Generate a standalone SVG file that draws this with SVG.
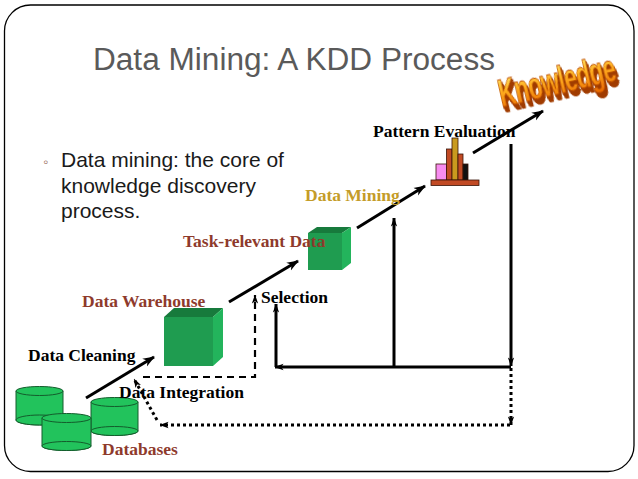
<svg xmlns="http://www.w3.org/2000/svg" width="638" height="479" viewBox="0 0 638 479">
<style>
.lbl{font-family:"Liberation Serif","Times New Roman",serif;font-weight:bold;font-size:17.5px}
.blk{fill:#000}
.red{fill:#8e3a2c}
.gold{fill:#c49c28}
.sol{stroke:#000;stroke-width:3;fill:none}
.dash{stroke:#000;stroke-width:2.2;fill:none;stroke-dasharray:7,5}
.dot{stroke:#000;stroke-width:3;fill:none;stroke-dasharray:3,3}
.cyl{fill:#22c35c;stroke:#145c2c;stroke-width:1}
.bar{stroke:#3a1408;stroke-width:0.8}
</style>
<defs>
<marker id="ah" viewBox="0 0 12 10" refX="11" refY="5" markerWidth="12" markerHeight="10" markerUnits="userSpaceOnUse" orient="auto"><path d="M0,0.5 L12,5 L0,9.5 L3.5,5 z" fill="#000"/></marker>
<marker id="ahs" viewBox="0 0 10 8" refX="9.5" refY="4" markerWidth="9" markerHeight="8" markerUnits="userSpaceOnUse" orient="auto"><path d="M0,0.5 L10,4 L0,7.5 L2.5,4 z" fill="#000"/></marker>
<linearGradient id="kg" x1="0" y1="0" x2="0" y2="1">
<stop offset="0" stop-color="#fff27a"/>
<stop offset="0.45" stop-color="#ffb020"/>
<stop offset="1" stop-color="#e86400"/>
</linearGradient>
<filter id="ext" x="-10%" y="-20%" width="130%" height="160%">
<feFlood flood-color="#a03c00" result="c"/>
<feComposite in="c" in2="SourceAlpha" operator="in" result="s"/>
<feOffset in="s" dx="0.4" dy="0.8" result="o1"/>
<feOffset in="s" dx="0.8" dy="1.6" result="o2"/>
<feOffset in="s" dx="1.2" dy="2.4" result="o3"/>
<feOffset in="s" dx="1.6" dy="3.2" result="o4"/>
<feMerge><feMergeNode in="o4"/><feMergeNode in="o3"/><feMergeNode in="o2"/><feMergeNode in="o1"/><feMergeNode in="SourceGraphic"/></feMerge>
</filter>
</defs>
<rect width="638" height="479" fill="#fff"/>
<rect x="4.5" y="5" width="629.5" height="466.5" rx="26" ry="26" fill="none" stroke="#000" stroke-width="1.3"/>

<g id="title">
<text x="93" y="70" font-family="'Liberation Sans',Arial,sans-serif" font-size="31" fill="#5a5a5a" textLength="402" lengthAdjust="spacingAndGlyphs">Data Mining: A KDD Process</text>
</g>
<g id="bullet" font-family="'Liberation Sans',Arial,sans-serif" font-size="21" fill="#1a1a1a">
<text x="43" y="167" font-size="15" fill="#9a6e60">◦</text>
<text x="61" y="167">Data mining: the core of</text>
<text x="61" y="193">knowledge discovery</text>
<text x="61" y="218">process.</text>
</g>

<g id="connectors">
<line x1="86" y1="398" x2="154" y2="357" class="sol" marker-end="url(#ah)"/>
<line x1="229" y1="302" x2="298" y2="261" class="sol" marker-end="url(#ah)"/>
<line x1="357" y1="228" x2="425" y2="186" class="sol" marker-end="url(#ah)"/>
<line x1="473" y1="153" x2="543" y2="111" class="sol" marker-end="url(#ah)"/>
<line x1="511" y1="144" x2="511" y2="366" class="sol" stroke-width="2.5" marker-end="url(#ahs)"/>
<line x1="511" y1="367" x2="275" y2="367" class="sol" stroke-width="2.5" marker-end="url(#ahs)"/>
<line x1="276" y1="367" x2="276" y2="304" class="sol" stroke-width="2.5" marker-end="url(#ahs)"/>
<line x1="394" y1="367" x2="394" y2="218" class="sol" stroke-width="2.5" marker-end="url(#ahs)"/>
<polyline points="143,377 255,377 255,295" class="dash" marker-end="url(#ahs)"/>
<line x1="511" y1="368" x2="511" y2="425" class="dot" marker-end="url(#ahs)"/>
<line x1="510" y1="425" x2="160" y2="425" class="dot" marker-end="url(#ahs)"/>
<line x1="157" y1="420" x2="134" y2="379" class="dot" marker-end="url(#ahs)"/>
</g>

<g id="databases">
<path class="cyl" d="M16,391 V420 A23.5,5 0 0 0 63,420 V391 Z"/>
<ellipse class="cyl" cx="39.5" cy="420" rx="23.5" ry="5" fill="none"/>
<ellipse class="cyl" cx="39.5" cy="391" rx="23.5" ry="4.5"/>
<path class="cyl" d="M91,402 V431 A23.5,4.5 0 0 0 138,431 V402 Z"/>
<ellipse class="cyl" cx="114.5" cy="431" rx="23.5" ry="4.5" fill="none"/>
<ellipse class="cyl" cx="114.5" cy="402" rx="23.5" ry="4.5"/>
<path class="cyl" d="M42,418 V446 A24.5,4.5 0 0 0 91,446 V418 Z"/>
<ellipse class="cyl" cx="66.5" cy="446" rx="24.5" ry="4.5" fill="none"/>
<ellipse class="cyl" cx="66.5" cy="418" rx="24.5" ry="4.5"/>
</g>

<g id="warehouse">
<rect x="164" y="317" width="49" height="49" fill="#1f9c50"/>
<polygon points="164,317 174,308 223,308 213,317" fill="#177a3c"/>
<polygon points="213,317 223,308 223,357 213,366" fill="#23b45c"/>
</g>

<g id="taskdata">
<rect x="308" y="233" width="34" height="37" fill="#1f9c50"/>
<polygon points="308,233 317,227 351,227 342,233" fill="#177a3c"/>
<polygon points="342,233 351,227 351,263 342,270" fill="#23b45c"/>
</g>

<g id="pattern">
<rect class="bar" x="436" y="164" width="10.5" height="16" fill="#f78cf0"/>
<rect class="bar" x="446.5" y="149" width="5.5" height="31" fill="#c14a24"/>
<rect class="bar" x="452" y="138" width="6" height="42" fill="#c99a1e"/>
<rect class="bar" x="458" y="154" width="5" height="26" fill="#c14a24"/>
<rect class="bar" x="463" y="164" width="5" height="16" fill="#111"/>
<rect class="bar" x="431" y="180" width="48" height="5.5" fill="#c14a24"/>
</g>

<g id="knowledge">
<text transform="translate(502,107) rotate(-13) scale(1.16,1.95)" x="0" y="0" font-family="'Liberation Sans',Arial,sans-serif" font-weight="bold" font-size="20" fill="url(#kg)" stroke="#c05000" stroke-width="0.4" filter="url(#ext)" letter-spacing="-0.5">Knowledge</text>
</g>

<g id="labels">
<text class="lbl blk" x="373" y="137">Pattern Evaluation</text>
<text class="lbl gold" x="305" y="201">Data Mining</text>
<text class="lbl red" x="183" y="247">Task-relevant Data</text>
<text class="lbl red" x="82" y="307">Data Warehouse</text>
<text class="lbl blk" x="261" y="303">Selection</text>
<text class="lbl blk" x="28" y="361">Data Cleaning</text>
<text class="lbl blk" x="119" y="398">Data Integration</text>
<text class="lbl red" x="102" y="455">Databases</text>
</g>
</svg>
